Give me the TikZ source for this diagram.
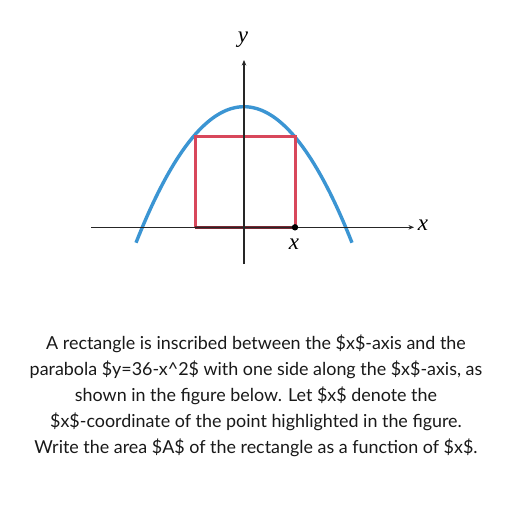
\documentclass[tikz,border=0pt]{standalone}
\usepackage{fontspec}
\setmainfont{Lato}
\newfontfamily\labelfont{Liberation Serif}
\usetikzlibrary{arrows.meta}
\definecolor{parablue}{HTML}{3B95D3}
\definecolor{rectred}{HTML}{D8475B}
\tikzset{
  axisline/.style={line width=1.1pt, black!85, -{Stealth[length=5.5pt,width=4.5pt]}},
  axlabel/.style={font=\labelfont\itshape\fontsize{23}{23}\selectfont, inner sep=0pt},
  curve/.style={parablue, line width=3.4pt},
  rectline/.style={rectred, line width=3pt},
  question/.style={font=\fontsize{17.9}{26}\selectfont, align=center, text=black!90, inner sep=0pt}
}
\begin{document}
\begin{tikzpicture}[x=1pt,y=-1pt]
\useasboundingbox[fill=white] (0,0) rectangle (512,512);
% parabola
\draw[curve, domain=-108:108, samples=80, smooth] plot ({244+\x},{106.7+120.6*(\x/101.7)^2});
% rectangle
\coordinate (bl) at (195,227.3);
\coordinate (tl) at (195,136.3);
\coordinate (tr) at (295,136.3);
\coordinate (br) at (295,227.3);
\draw[rectline] (bl) -- (tl) -- (tr) -- (br);
% axes
\coordinate (xs) at (91,227.3);
\coordinate (xe) at (414,227.3);
\coordinate (ys) at (244,264);
\coordinate (ye) at (244,60);
\draw[line width=2.8pt, rectred!55!black] (bl) -- (br);
\draw[axisline] (xs) -- (xe);
\draw[axisline] (ys) -- (ye);
\node[axlabel] (xl) at (423,225) {x};
\node[axlabel] (yl) at (243,40) {y};
\fill (br) circle (3.2pt);
\node[axlabel] (xp) at (294,244) {x};
\node[question] (q) at (256,396) {A rectangle is inscribed between the \$x\$-axis and the\\parabola \$y=36-x\textasciicircum 2\$ with one side along the \$x\$-axis, as\\shown in the figure below. Let \$x\$ denote the\\\$x\$-coordinate of the point highlighted in the figure.\\Write the area \$A\$ of the rectangle as a function of \$x\$.};
\end{tikzpicture}
\end{document}
